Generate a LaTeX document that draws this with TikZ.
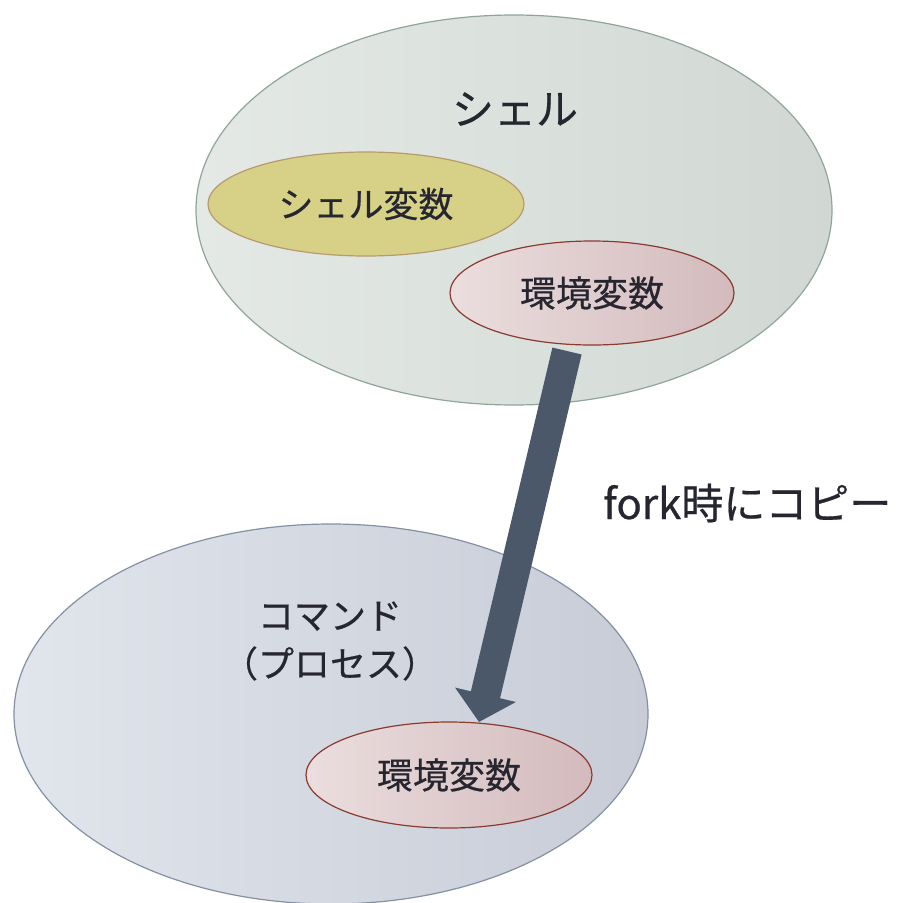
\documentclass[tikz,border=0pt]{standalone}
\usepackage{fontspec}
\setmainfont[FakeBold=0.5]{Noto Sans CJK JP}
\usetikzlibrary{shapes.geometric,arrows.meta}
\definecolor{txt}{HTML}{262630}
\definecolor{arrowc}{HTML}{4B5869}
\definecolor{shellL}{HTML}{E4E9E5}
\definecolor{shellR}{HTML}{D1D8D3}
\definecolor{shellD}{HTML}{8FA59A}
\definecolor{svF}{HTML}{D6D186}
\definecolor{svD}{HTML}{B89A6E}
\definecolor{envL}{HTML}{EBDEDE}
\definecolor{envR}{HTML}{D3BABD}
\definecolor{envD}{HTML}{8B3A2E}
\definecolor{cmdL}{HTML}{E1E5EC}
\definecolor{cmdR}{HTML}{C7CCD7}
\definecolor{cmdD}{HTML}{8490A4}
\begin{document}
\begin{tikzpicture}[x=1pt,y=-1pt,
  blob/.style={ellipse,inner sep=0pt,line width=1.2pt,text=txt,font=\fontsize{36}{42}\selectfont},
  lbl/.style={text=txt,font=\fontsize{36}{42}\selectfont,align=center,inner sep=0pt}]
\useasboundingbox (0,0) rectangle (906,903);
% shell
\node[blob,draw=shellD,left color=shellL,right color=shellR,
  minimum width=636pt,minimum height=390pt] (shell) at (514,210) {};
\node[lbl,font=\fontsize{42}{48}\selectfont] (shelltxt) at (515,109) {シェル};
\node[blob,draw=svD,fill=svF,font=\fontsize{35}{42}\selectfont,
  minimum width=316pt,minimum height=104pt] (shellvar) at (366,204) {シェル変数};
\node[blob,draw=envD,left color=envL,right color=envR,
  minimum width=284pt,minimum height=104pt] (env1) at (592,293) {\raisebox{-2pt}{環境変数}};
% command
\node[blob,draw=cmdD,left color=cmdL,right color=cmdR,
  minimum width=634pt,minimum height=380pt] (cmd) at (331,714) {};
\node[lbl] (cmdtxt) at (330,641) {コマンド\\[6pt]（プロセス）};
\node[blob,draw=envD,left color=envL,right color=envR,
  minimum width=286pt,minimum height=106pt] (env2) at (449,775) {\raisebox{-2pt}{環境変数}};
% arrow
\coordinate (S) at (567,351);
\coordinate (T) at (479,722);
\draw[arrowc,line width=30pt,-{Triangle[width=61pt,length=28pt]}] (S) -- (T);
\node[lbl,anchor=west,font=\fontsize{42}{48}\selectfont] (fork) at (603,503) {fork時にコピー};
\end{tikzpicture}
\end{document}
